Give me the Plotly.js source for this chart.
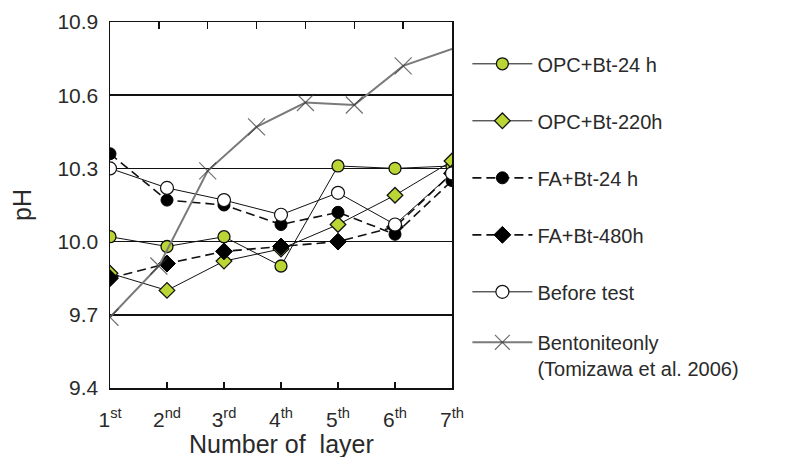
<!DOCTYPE html>
<html>
<head>
<meta charset="utf-8">
<script src="https://cdn.plot.ly/plotly-3.0.1.min.js"></script>
<style>html,body{margin:0;padding:0;background:#fff;}#chart{width:785px;height:457px;}</style>
</head>
<body>
<div id="chart"></div>
<script>
// Layers (bottom axis)
const layers = [1, 2, 3, 4, 5, 6, 7];
const layerLabels = ["1<sup>st</sup>", "2<sup>nd</sup>", "3<sup>rd</sup>", "4<sup>th</sup>", "5<sup>th</sup>", "6<sup>th</sup>", "7<sup>th</sup>"];
const xTitle = "Number of  layer";

// Series values (pH)
const opc24 = [10.02, 9.98, 10.02, 9.90, 10.31, 10.30, 10.31];
const opc220 = [9.87, 9.80, 9.92, 9.97, 10.07, 10.19, 10.33];
const fa24 = [10.36, 10.17, 10.15, 10.07, 10.12, 10.03, 10.25];
const fa480 = [9.85, 9.91, 9.96, 9.98, 10.00, 10.06, 10.28];
const beforeTest = [10.30, 10.22, 10.17, 10.11, 10.20, 10.07, 10.28];

// Bentonite only (Tomizawa et al. 2006), 8 layers on the top scale
const bentoniteLayers = [0, 1, 2, 3, 4, 5, 6, 7];
const bentonite = [9.69, 9.90, 10.29, 10.47, 10.57, 10.56, 10.72, 10.79];

const yTicks = [9.4, 9.7, 10.0, 10.3, 10.6, 10.9];
const yTickText = ["9.4", "9.7", "10.0", "10.3", "10.6", "10.9"];

const green = "#b9d634";
const font = "Liberation Sans, Arial, sans-serif";
const txt = "#2a2a2a";

const traces = [
  {
    name: "Bentoniteonly<br>(Tomizawa et al. 2006)",
    x: bentoniteLayers, y: bentonite, xaxis: "x2", yaxis: "y",
    mode: "lines+markers", legend: "legend2",
    line: {color: "#7a7a7a", width: 2},
    marker: {symbol: "x-thin-open", size: bentonite.map((v, i) => i === bentonite.length - 1 ? 0 : 17), color: "#333", line: {color: "#333", width: 1.2}}
  },
  {
    name: "OPC+Bt-24 h", x: layers, y: opc24, mode: "lines+markers", legendgroup: "g1", legendrank: 1,
    line: {color: "#111", width: 1},
    marker: {symbol: "circle", size: 12, color: green, line: {color: "#111", width: 1.3}}
  },
  {
    name: "OPC+Bt-220h", x: layers, y: opc220, mode: "lines+markers", legendgroup: "g2", legendrank: 2,
    line: {color: "#111", width: 1},
    marker: {symbol: "diamond", size: 12, color: green, line: {color: "#111", width: 1.3}}
  },
  {
    name: "FA+Bt-24 h", x: layers, y: fa24, mode: "lines+markers", legendgroup: "g3", legendrank: 3,
    line: {color: "#111", width: 1.6, dash: "9px,5px"},
    marker: {symbol: "circle", size: 12, color: "#000", line: {color: "#000", width: 1}}
  },
  {
    name: "FA+Bt-480h", x: layers, y: fa480, mode: "lines+markers", legendgroup: "g4", legendrank: 4,
    line: {color: "#111", width: 1.6, dash: "9px,5px"},
    marker: {symbol: "diamond", size: 13, color: "#000", line: {color: "#000", width: 1}}
  },
  {
    name: "Before test", x: layers, y: beforeTest, mode: "lines+markers", legendgroup: "g5", legendrank: 5,
    line: {color: "#111", width: 1},
    marker: {symbol: "circle", size: 13, color: "#fff", line: {color: "#111", width: 1.2}}
  }
];

const legendCommon = {
  xanchor: "left", yanchor: "top",
  font: {family: font, size: 20, color: txt},
  itemwidth: 60, bgcolor: "rgba(0,0,0,0)"
};

const layout = {
  width: 785, height: 457,
  margin: {l: 110, r: 333, t: 22, b: 69},
  paper_bgcolor: "#fff", plot_bgcolor: "#fff",
  font: {family: font, color: txt, size: 20},
  showlegend: true,
  legend: Object.assign({}, legendCommon, {
    x: 1.045, y: 0.939, traceorder: "grouped", tracegroupgap: 28
  }),
  legend2: Object.assign({}, legendCommon, {
    x: 1.045, y: 0.178, valign: "top"
  }),
  xaxis: {
    range: [1, 7], tickvals: layers, ticktext: layerLabels,
    ticks: "inside", ticklen: 6, tickwidth: 1.5, tickcolor: "#111",
    showgrid: false, zeroline: false,
    showline: true, linecolor: "#111", linewidth: 1.5, mirror: true,
    tickfont: {family: font, size: 21, color: txt},
    ticklabelstandoff: 12
  },
  xaxis2: {
    overlaying: "x", side: "top", range: [0, 7],
    tickvals: [1, 2, 3, 4, 5, 6], showticklabels: false,
    ticks: "inside", ticklen: 7, tickwidth: 1.5, tickcolor: "#111",
    showgrid: false, zeroline: false, showline: false
  },
  yaxis: {
    range: [9.4, 10.9], tickvals: yTicks, ticktext: yTickText,
    ticks: "", showgrid: true, gridcolor: "#111", gridwidth: 1.5,
    zeroline: false, showline: true, linecolor: "#111", linewidth: 1.5, mirror: true,
    tickfont: {family: font, size: 21, color: txt},
    ticklabelstandoff: 6,
    title: {text: "pH", font: {family: font, size: 25, color: txt}, standoff: 18}
  },
  annotations: [{
    text: xTitle, xref: "paper", yref: "paper", x: 0.5, y: -0.152,
    xanchor: "center", yanchor: "middle", showarrow: false,
    font: {family: font, size: 25, color: txt}
  }]
};

Plotly.newPlot("chart", traces, layout, {displayModeBar: false, staticPlot: true});
</script>
</body>
</html>
